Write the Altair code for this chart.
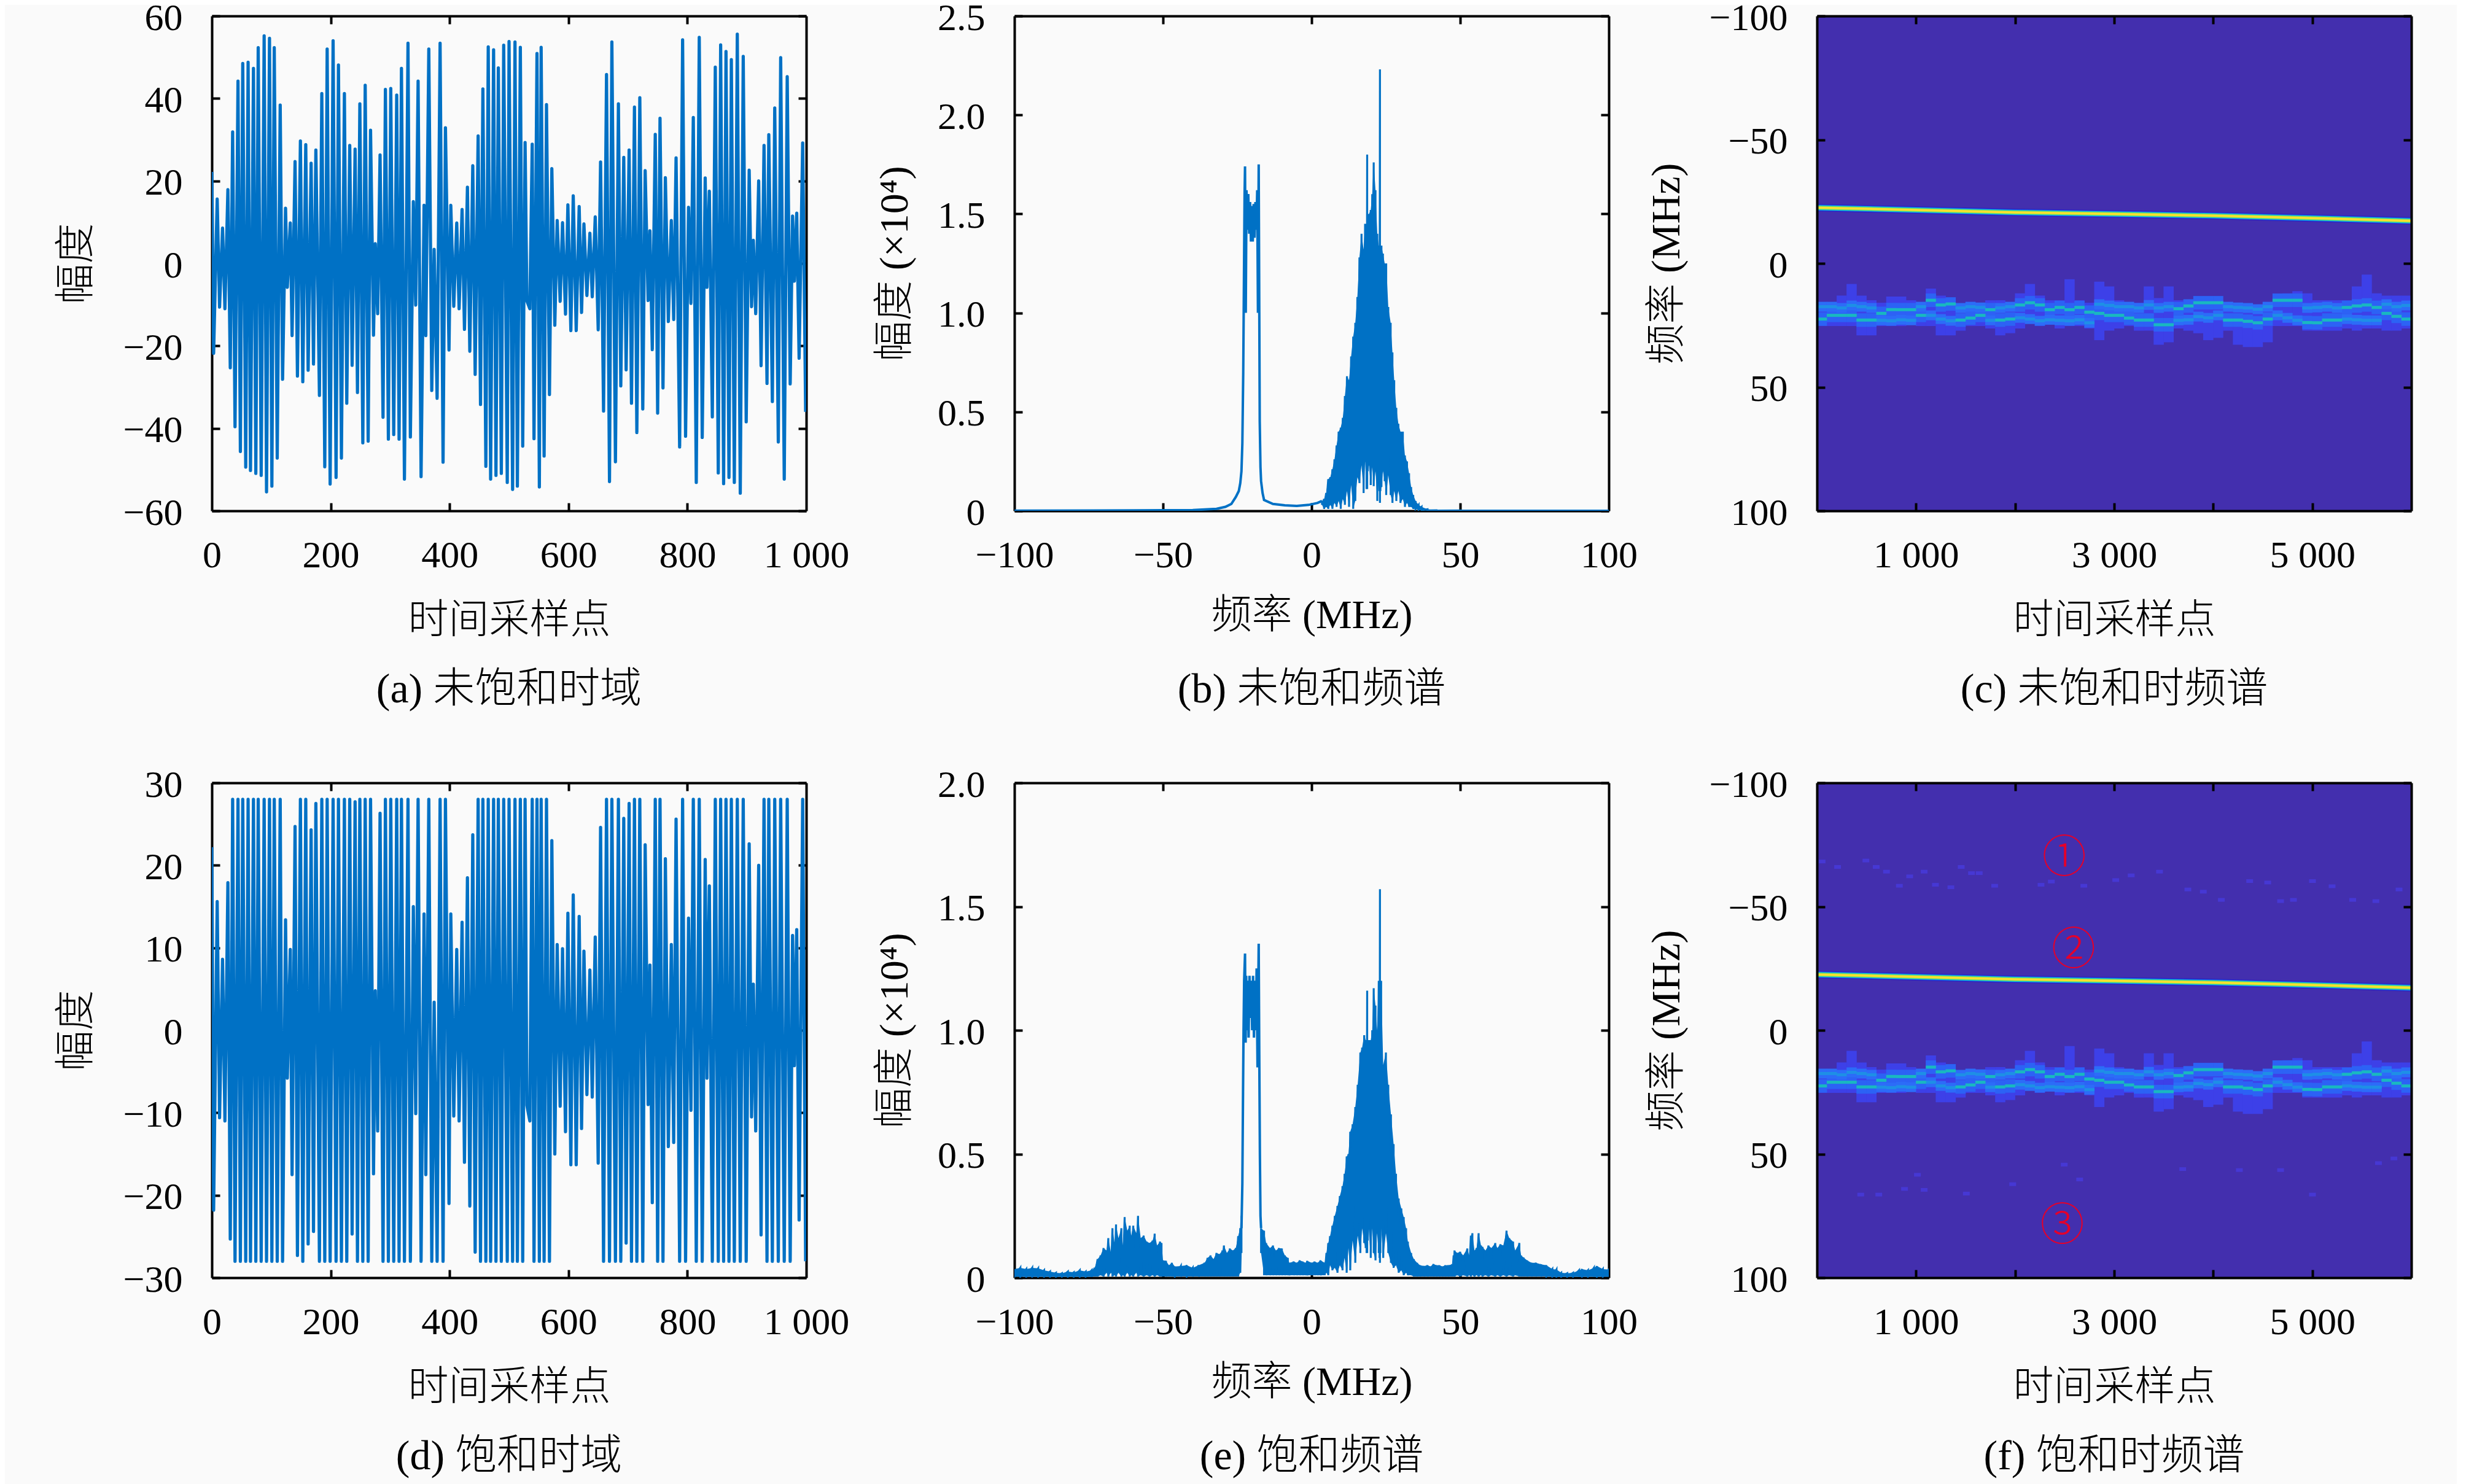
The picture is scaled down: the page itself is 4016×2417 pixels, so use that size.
import altair as alt
import pandas as pd

# ---------- time domain: extremes ----------
a_peak_x = [0,9,18,27,35,44,52,61,70,78,
 88,97,105,115,124,132,140,149,158,167,
 175,185,194,204,213,223,232,241,249,258,
 267,275,283,292,301,311,319,330,339,347,
 357,365,374,384,393,402,412,421,430,439,
 448,456,465,474,482,491,500,510,519,527,
 539,547,554,563,572,581,590,599,608,618,
 626,636,645,654,664,673,684,693,702,711,
 720,729,737,746,754,763,773,781,792,802,
 810,820,830,837,847,856,865,874,884,894,
 904,911,920,929,937,947,957,968,977,984,
 994]
a_peak_y = [22.2,15.6,8.6,17.9,31.9,44.2,48.5,48.8,47.3,52.3,
 55.2,54.6,52.3,38.4,13.4,9.8,24.7,29.7,28.8,24.3,
 27.5,41.2,52,54,48.1,41.2,28.6,27.7,38.7,43.2,
 32.3,4.8,26.3,42.2,42.4,40.8,47.3,53.4,15,44.2,
 14.1,52,3.4,53.4,32.9,14.1,9.8,13.1,18.5,23.7,
 30.9,42.3,52.5,51.8,47.4,52.9,53.8,53.7,52.4,29.3,
 28.9,50.9,52.4,38.5,23,10.4,9.9,14.2,16.4,13.8,
 9.6,7.3,11.3,24.6,45.8,53.7,38.7,25.7,27.5,37.9,
 40.2,22.5,7.9,31.3,35.2,20.8,10.4,25.6,54.2,13.6,
 35.4,54.8,20.7,17.5,47.6,53,51.4,49.4,55.6,50.2,
 22.6,5.6,20,28.6,31.2,37.7,49.9,45.3,11.5,12.2,
 29.2]
a_trough_x = [3,13,22,31,39,48,57,65,74,83,
 92,101,110,119,127,135,144,153,162,171,
 181,190,199,209,218,227,236,245,254,263,
 272,279,288,297,306,315,324,334,343,352,
 360,370,379,389,399,407,416,425,434,443,
 452,461,469,478,487,497,506,514,523,530,
 535,542,551,559,568,577,586,595,604,613,
 622,631,640,650,659,669,679,688,697,706,
 715,725,734,741,750,759,768,777,787,797,
 806,815,825,833,842,852,861,870,879,889,
 899,908,915,924,934,943,953,963,973,980,
 988,999]
a_trough_y = [-21.8,-10.6,-11,-25.3,-39.6,-45.6,-49.4,-50.2,-50.9,-51.4,
 -55.4,-54,-47.2,-28.1,-5.8,-17.5,-27.3,-28.7,-25.9,-24.4,
 -32,-49.3,-53.5,-51.9,-47.2,-33.9,-24.7,-31.3,-43.5,-43.1,
 -17.4,-12.2,-37.3,-42.6,-41.5,-42.6,-52.3,-42.1,-10.1,-51.7,
 -17.5,-30.8,-32.7,-48.2,-21,-10.4,-11,-16,-21.3,-26.9,
 -34.2,-49.2,-52.3,-51.4,-50.9,-53.1,-54.8,-54,-44.3,-9.1,
 -11,-42.5,-54.2,-46.7,-31.8,-15,-9.2,-12.3,-16.3,-16.3,
 -11.9,-7.8,-8.1,-16.1,-35.8,-52.9,-48.1,-29.7,-25.8,-33.9,
 -41,-35.3,-9,-20.9,-36.3,-30.2,-14.1,-13.6,-44.5,-41.9,
 -9.7,-53.1,-42.2,-5.8,-37.2,-50.8,-53.4,-51.9,-53.1,-55.7,
 -38.4,-10.5,-12.2,-24.8,-29.1,-33.5,-43.3,-52.3,-29.2,-4.3,
 -23,-36]
d_peak_y = [22.2,15.6,8.6,17.9,28,28,28,28,28,28,
 28,28,28,28,13.4,9.8,24.7,28,28,24.3,
 27.5,28,28,28,28,28,28,27.7,28,28,
 28,4.8,26.3,28,28,28,28,28,15,28,
 14.1,28,3.4,28,28,14.1,9.8,13.1,18.5,23.7,
 28,28,28,28,28,28,28,28,28,28,
 28,28,28,28,23,10.4,9.9,14.2,16.4,13.8,
 9.6,7.3,11.3,24.6,28,28,28,25.7,27.5,28,
 28,22.5,7.9,28,28,20.8,10.4,25.6,28,13.6,
 28,28,20.7,17.5,28,28,28,28,28,28,
 22.6,5.6,20,28,28,28,28,28,11.5,12.2,
 28]
d_trough_y = [-21.8,-10.6,-11,-25.3,-28,-28,-28,-28,-28,-28,
 -28,-28,-28,-28,-5.8,-17.5,-27.3,-28,-25.9,-24.4,
 -28,-28,-28,-28,-28,-28,-24.7,-28,-28,-28,
 -17.4,-12.2,-28,-28,-28,-28,-28,-28,-10.1,-28,
 -17.5,-28,-28,-28,-21,-10.4,-11,-16,-21.3,-26.9,
 -28,-28,-28,-28,-28,-28,-28,-28,-28,-9.1,
 -11,-28,-28,-28,-28,-15,-9.2,-12.3,-16.3,-16.3,
 -11.9,-7.8,-8.1,-16.1,-28,-28,-28,-28,-25.8,-28,
 -28,-28,-9,-20.9,-28,-28,-14.1,-13.6,-28,-28,
 -9.7,-28,-28,-5.8,-28,-28,-28,-28,-28,-28,
 -28,-10.5,-12.2,-24.8,-28,-28,-28,-28,-28,-4.3,
 -23,-28]

# ---------- spectrum (b), values in units of 10^4 ----------
b_left = [(-100,.001),(-60,.002),(-40,.004),(-32,.01),(-29,.02),(-27,.035),(-25.5,.07),(-24.5,.10),(-24,.14),
 (-23.6,.2),(-23.3,.34),(-23.0,.7),(-22.7,1.3),(-22.55,1.6),(-22.4,1.74),(-22.15,1.0),(-21.9,1.62),
 (-21.6,1.42),(-21.3,1.6),(-21.0,1.40),(-20.7,1.56),(-20.4,1.36),(-20.1,1.54),(-19.8,1.36),(-19.5,1.55),
 (-19.2,1.38),(-18.9,1.56),(-18.6,1.42),(-18.3,1.62),(-18.05,1.0),(-17.8,1.75),(-17.65,1.2),(-17.45,.45),
 (-17.2,.22),(-17,.15),(-16.5,.09),(-16,.055),(-13,.035),(-9,.028),(-5,.025),(-1,.03),(2,.04),(3.5,.05)]
b_band = [(3.5,.05,.03),(4.2,.06,.01),(4.9,.09,.02),(5.6,.16,.01),(6.3,.17,.03),(7.0,.21,.01),(7.7,.26,.04),
 (8.4,.33,.02),(9.1,.40,.05),(9.8,.42,.01),(10.5,.47,.06),(11.2,.58,.03),(11.9,.68,.10),(12.6,.66,.02),
 (13.3,.78,.13),(14.0,.88,.01),(14.7,.95,.05),(15.4,1.08,.17),(16.1,1.28,.14),(16.8,1.40,.23),(17.5,1.32,.09),
 (18.0,1.45,.25),(18.5,1.40,.11),(18.7,1.80,.11),(18.9,1.40,.2),(19.3,1.50,.23),(19.9,1.52,.13),(20.4,1.60,.22),
 (20.9,1.76,.125),(21.5,1.62,.2),(22.1,1.40,.05),(22.6,1.34,.15),(22.85,1.34,.1),(23.0,2.23,.04),(23.15,1.34,.1),
 (23.5,1.34,.12),(24.0,1.30,.2),(24.6,1.25,.15),(25.1,1.25,.08),(25.8,1.03,.18),(26.6,.95,.08),(27.2,.80,.04),
 (27.8,.66,.1),(28.5,.52,.05),(29.2,.44,.1),(29.9,.40,.04),(30.7,.40,.06),(31.4,.28,.02),(32.1,.25,.04),
 (32.8,.19,.02),(33.5,.12,.02),(34.2,.08,.01),(35,.05,.01),(36,.03,.005),(37,.02,.003),(39,.008,.002),
 (42,.003,.001),(50,.002,.001),(100,.001,.001)]

# ---------- spectrum (e) ----------
e_left = [(-100,.035,.004),(-98,.04,.004),(-96,.035,.004),(-94,.04,.004),(-92,.038,.004),(-90,.03,.004),(-88,.025,.004),
 (-86,.02,.004),(-84,.018,.004),(-82,.025,.004),(-80,.022,.004),(-78,.03,.004),(-76,.025,.004),(-74,.03,.004),
 (-73,.04,.005),(-72,.075,.005),(-71,.09,.01),(-70,.12,.005),(-69,.11,.02),(-68.4,.16,.005),(-67.5,.10,.02),(-67,.20,.005),
 (-66.3,.14,.01),(-65.8,.215,.005),(-65,.16,.02),(-64,.20,.005),(-63.5,.13,.01),(-62.9,.245,.005),(-62,.19,.02),(-61.2,.21,.005),
 (-60.7,.17,.01),(-60,.21,.005),(-59,.18,.02),(-58.4,.25,.005),(-57.5,.16,.01),(-56.5,.17,.005),(-55.5,.146,.01),(-54.5,.14,.005),
 (-53.5,.15,.01),(-52.8,.178,.005),(-52,.13,.01),(-51,.146,.005),(-50.5,.14,.005),(-50,.07,.005),(-49,.068,.005),(-48,.05,.005),
 (-47,.06,.005),(-46,.045,.005),(-44,.047,.005),(-42,.05,.005),(-40,.04,.005),(-38,.05,.005),(-36,.06,.005),(-35,.08,.005),
 (-34,.09,.005),(-33,.075,.005),(-32,.10,.005),(-31,.095,.005),(-30,.11,.005),(-29.5,.13,.005),(-28.5,.10,.005),(-27.5,.118,.005),
 (-26.5,.11,.005),(-25.5,.12,.005),(-24.7,.168,.005),(-24,.2,.02),(-23.6,.25,.1)]
e_mid = [(-23.6,.2),(-23.3,.38),(-23.1,.7),(-22.9,1.0),(-22.7,1.2),(-22.4,1.31),(-22.2,.95),(-22,1.22),(-21.8,1.0),(-21.5,1.2),
 (-21.2,.97),(-20.9,1.22),(-20.6,1.05),(-20.3,1.2),(-20,1.0),(-19.7,1.22),(-19.4,.97),(-19.1,1.2),(-18.8,1.0),(-18.5,1.25),
 (-18.2,.85),(-18,1.1),(-17.8,1.35),(-17.6,.9),(-17.4,.5),(-17.2,.25),(-17,.2)]
e_right = [(-17,.2,.1),(-16,.19,.01),(-15.3,.14,.01),(-14,.12,.01),(-13,.13,.01),(-12,.11,.01),(-11,.12,.01),(-10,.118,.01),(-9,.09,.01),
 (-8,.08,.01),(-7.5,.06,.01),(-6,.065,.01),(-5,.06,.01),(-4,.07,.01),(-3,.065,.01),(-2,.06,.01),(-1.5,.068,.01),(0,.06,.01),(1,.065,.01),
 (2,.06,.01),(3,.07,.01),(4.4,.06,.01),(5,.10,.02),(5.6,.14,.01),(6.2,.168,.05),(7,.21,.03),(7.8,.25,.04),(8.7,.29,.02),(9.5,.33,.05),
 (10.4,.37,.03),(11.1,.42,.08),(11.8,.49,.02),(12.4,.50,.12),(13,.59,.03),(13.8,.62,.15),(14.7,.69,.06),(15.5,.78,.17),(16.4,.91,.1),
 (17,.93,.2),(17.7,.98,.14),(18.2,.96,.12),(18.5,.96,.1),(18.7,1.16,.1),(18.9,.96,.15),(19.2,.96,.2),(19.9,.96,.08),(20.4,1.0,.2),(20.9,1.17,.1),
 (21.5,1.1,.07),(22,1.0,.18),(22.6,1.2,.1),(22.85,1.2,.08),(23,1.57,.06),(23.15,1.2,.1),(23.4,1.2,.2),(24.1,.86,.08),(25,.91,.18),(25.8,.78,.1),(26.7,.66,.06),
 (27.6,.54,.04),(28.4,.42,.05),(29.3,.32,.02),(30.2,.28,.03),(31,.245,.01),(31.8,.2,.02),(32.4,.146,.01),(33.5,.1,.01),(34.4,.075,.005),
 (35.5,.06,.005),(36.5,.05,.005),(37.8,.047,.005),(39,.05,.005),(40,.045,.005),(41,.055,.005),(42,.05,.005),(43,.05,.005),(44,.045,.005),
 (45,.05,.005),(46,.05,.005),(47.3,.054,.005),(47.8,.09,.005),(48.1,.11,.005),(49,.10,.01),(50,.105,.005),(51,.09,.01),(52.4,.118,.005),
 (53,.09,.01),(53.6,.17,.005),(54.1,.18,.01),(54.8,.11,.005),(55.5,.12,.01),(56.2,.18,.005),(57,.13,.01),(57.5,.125,.005),(58.5,.11,.01),
 (59.5,.13,.005),(60.5,.12,.01),(61.8,.14,.005),(62.5,.12,.01),(63.5,.135,.005),(64.5,.13,.01),(65.6,.19,.005),(66.5,.16,.01),(67.8,.146,.005),
 (68.5,.11,.01),(69.9,.14,.005),(70.5,.09,.005),(71.3,.082,.005),(72.5,.07,.005),(74,.06,.005),(75.5,.06,.005),(77.2,.054,.005),(79,.05,.005),
 (81,.035,.004),(82.4,.033,.004),(84,.02,.004),(86,.018,.004),(88,.02,.004),(90,.03,.004),(91,.035,.004),(93,.03,.004),(95,.04,.004),
 (96,.047,.004),(98,.035,.004),(100,.033,.004)]

# ---------- time-frequency panels ----------
col_t = [50+100*k for k in range(60)]
band_top = [16.8,16.8,13,8.3,13,14.9,15.9,13.4,13.4,14.9,
 15.9,10.2,13,14.9,16.8,16.8,15.9,14.9,14.9,16.8,
 12.1,8.3,13,14.9,14.9,6.4,14.9,15.9,7.4,9.3,
 14.9,15.9,15.9,9.3,14,9.3,14.9,15.9,14.9,15.9,
 14.9,18.7,18.7,18.7,19.7,18.7,13,12.1,11.2,12.1,
 14.9,14.9,14.9,14.9,9.3,4.5,12.1,13,13,13]
band_bot = [25.3,25.3,25.3,25.3,29.1,29.1,25.3,25.3,25.3,24.4,
 25.3,25.3,29.1,29.1,27.2,25.3,25.3,26.3,29.1,28.2,
 26.3,24.4,25.3,24.4,26.3,25.3,25.3,26.3,31,27.2,
 26.3,25.3,27.2,27.2,32.9,31.9,26.3,27.2,28.2,31,
 30.1,27.2,32.9,33.8,33.8,31.9,25.3,25.3,25.3,27.2,
 27.2,27.2,27.2,26.3,27.2,26.3,26.3,27.2,27.2,26.3]
band_ridge = [22.5,21,21,21,22.9,22.9,20.2,18.7,18.7,18.7,
 21,14.9,16.8,16.4,22.9,22.1,21,18.7,22.9,22.5,
 16.8,15.9,16.8,18.7,17.8,18.7,17.8,19.7,20.2,21,
 21,22.1,22.9,22.9,24.8,24.8,18.3,17.2,15.9,15.9,
 15.9,22.9,22.9,23.4,24,22.5,14.9,14.9,14.9,23.9,
 24,22.9,22.9,17.8,17.2,16.8,17.8,20.2,21.4,22.5]
band_ridge2 = [17.5,17.5,18,17,17.5,18,23,23.2,22.8,23,
 17.5,21,22.5,23.2,18,17.5,17.8,23,18,17.5,
 22,22.5,23.2,22.8,23,23.2,22.8,24,16.5,17,
 17.5,17.5,18,16.8,18,17.5,23,22.8,21.5,22,
 21,17.5,17.8,18,18.5,17.5,21,22,23,18,
 17.8,17.5,18,22.5,22.8,23,23,16.5,17.5,17]
chirp_t = [0,1000,2000,3000,4000,5000,6000]
chirp_f = [-22.5,-21.6,-20.6,-20,-19.3,-18.3,-17.2]
dots_t = [52,208,494,598,702,936,1082,832,1196,1352,1456,1638,1794,1560,2366,2262,2694,3016,3172,3458,3744,3900,4082,4368,4550,4680,4810,5002,5200,5408,5642,5876,
          442,624,884,1082,1014,1508,1976,2496,2652,3692,4264,4680,5002,5668,5824]
dots_f = [-68.2,-66,-68.6,-66,-64.1,-62.2,-64.1,-58.4,-58.8,-57.8,-66,-63.5,-58.4,-63.5,-60.1,-58.8,-58.4,-60.7,-62.6,-64.1,-56.9,-56,-52.7,-60.3,-59.7,-52.2,-52.7,-60.3,-58.2,-52.7,-52.2,-56.9,
          66.4,66.4,64.1,64.5,58.4,66,62.2,54.3,60.3,56.1,56.5,56.5,66.4,53.7,51.8]
mark_t = [2497,2591,2476]
mark_f = [-69.6,-32.3,79.2]
mark_s = ["①","②","③"]

# ---------- styling ----------
W, H = 968, 806
BLUE = "#0071C5"
FONT = "Liberation Serif, Noto Sans CJK SC"
NUM = 62
CJK = 66
CAP = 68
TICK = 13

def ax_common(z):
    return dict(grid=False, zindex=z, domainColor="black", domainWidth=4, tickColor="black", tickWidth=4,
                labelFont=FONT, labelFontSize=NUM, labelColor="black", labelOverlap=False, labelFlush=False, labelBound=False,
                titleFont=FONT, titleFontSize=CJK, titleFontWeight=300, titleColor="black")

def guides(xd, xt, xl, yd, yt, xexpr, yexpr, xtitle, ytitle, xty, ytx, z=0, rev=False):
    row = pd.DataFrame({"x": [xd[0]], "y": [yd[0]]})
    sx = alt.Scale(domain=xd, nice=False, zero=False)
    sy = alt.Scale(domain=yd, nice=False, zero=False, reverse=rev)
    c = ax_common(z)
    l1 = alt.Chart(row).mark_point(opacity=0).encode(
        x=alt.X("x:Q", scale=sx, axis=alt.Axis(orient="bottom", values=xl, labelExpr=xexpr, ticks=False, tickSize=0, labelPadding=42,
                                               title=xtitle, titleY=xty, titleBaseline="middle", **c)),
        y=alt.Y("y:Q", scale=sy, axis=alt.Axis(orient="left", values=yt, labelExpr=yexpr, ticks=False, tickSize=0, labelPadding=48,
                                               labelOffset=3, title=ytitle, titleX=ytx, titleBaseline="middle", **c)))
    l2 = alt.Chart(row).mark_point(opacity=0).encode(
        x=alt.X("x:Q", scale=sx, axis=alt.Axis(orient="top", offset=-H, values=xt, labels=False, domain=False, tickSize=TICK, title=None, **c)),
        y=alt.Y("y:Q", scale=sy, axis=alt.Axis(orient="right", offset=-W, values=yt, labels=False, domain=False, tickSize=TICK, title=None, **c)))
    l3 = alt.Chart(row).mark_point(opacity=0).encode(
        x=alt.X("x:Q", scale=sx, axis=alt.Axis(orient="bottom", offset=-H, values=xt, labels=False, tickSize=TICK, title=None, **c)),
        y=alt.Y("y:Q", scale=sy, axis=alt.Axis(orient="left", offset=-W, values=yt, labels=False, tickSize=TICK, title=None, **c)))
    return [l1, l2, l3], sx, sy

def finish(layers, caption, off=47):
    return alt.layer(*layers).resolve_axis(x="independent", y="independent").properties(
        width=W, height=H,
        title=alt.TitleParams(text=caption, orient="bottom", anchor="middle", font=FONT, fontSize=CAP, fontWeight=300,
                              color="black", offset=off))

X_1000 = "datum.value==1000?'1 000':format(datum.value,'d')"
SIGNED = "format(datum.value,'d')"
ONE = "datum.value==0?'0':format(datum.value,'.1f')"

def time_panel(ptsx, pty, trx, try_, yd, yt, caption):
    g, sx, sy = guides([0, 1000], [200,400,600,800], [0,200,400,600,800,1000], yd, yt, X_1000, SIGNED,
                       "时间采样点", "幅度", 178, -221)
    pts = sorted(list(zip(ptsx, pty)) + list(zip(trx, try_)))
    df = pd.DataFrame(pts, columns=["x", "y"])
    line = alt.Chart(df).mark_line(color=BLUE, strokeWidth=5.2, clip=True, strokeJoin="round").encode(
        x=alt.X("x:Q", scale=sx, axis=None), y=alt.Y("y:Q", scale=sy, axis=None))
    return finish(g + [line], caption)

def spec_panel(yd, yt, caption, pieces):
    g, sx, sy = guides([-100, 100], [-50,0,50], [-100,-50,0,50,100], yd, yt, SIGNED, ONE,
                       "频率 (MHz)", "幅度 (×10⁴)", 170, -195)
    marks = []
    for kind, rows in pieces:
        if kind == "line":
            df = pd.DataFrame(rows, columns=["x", "y"]).reset_index()
            marks.append(alt.Chart(df).mark_line(color=BLUE, strokeWidth=4, clip=True).encode(
                x=alt.X("x:Q", scale=sx, axis=None), y=alt.Y("y:Q", scale=sy, axis=None), order="index:Q"))
        else:
            df = pd.DataFrame(rows, columns=["x", "hi", "lo"])
            marks.append(alt.Chart(df).mark_area(color=BLUE, opacity=1, clip=True).encode(
                x=alt.X("x:Q", scale=sx, axis=None), y=alt.Y("hi:Q", scale=sy, axis=None), y2="lo:Q"))
            zig = []
            for x, hi, lo in rows:
                zig += [(x, hi), (x, lo)]
            dz = pd.DataFrame(zig, columns=["x", "y"]).reset_index()
            marks.append(alt.Chart(dz).mark_line(color=BLUE, strokeWidth=3.2, clip=True).encode(
                x=alt.X("x:Q", scale=sx, axis=None), y=alt.Y("y:Q", scale=sy, axis=None), order="index:Q"))
    return finish(g + marks, caption, off=55)

def tf_panel(caption, extras=False):
    g, sx, sy = guides([0, 6000], [1000,2000,3000,4000,5000], [1000,3000,5000], [-100, 100], [-100,-50,0,50,100],
                       "replace(format(datum.value,'d'),'000',' 000')",
                       SIGNED, "时间采样点", "频率 (MHz)", 178, -245, z=1, rev=True)
    X = lambda f="t:Q": alt.X(f, scale=sx, axis=None)
    Y = lambda f="f:Q": alt.Y(f, scale=sy, axis=None)
    bg = alt.Chart(pd.DataFrame({"t": [0], "t2": [6000], "f": [-100], "f2": [100]})).mark_rect(color="#432FAE").encode(
        x=X(), x2="t2:Q", y=Y(), y2="f2:Q")
    band = pd.DataFrame({"t": col_t, "top": band_top, "bot": band_bot, "f": band_ridge, "g": band_ridge2})
    cw = 16.6
    outer = alt.Chart(band).mark_rect(color="#3D40E8", width=cw).encode(x=X(), y=Y("top:Q"), y2="bot:Q")
    mid = alt.Chart(band).mark_rect(color="#2C62F5", width=cw, height=22).encode(x=X(), y=Y())
    mid2 = alt.Chart(band).mark_rect(color="#2C6CF8", width=cw, height=16).encode(x=X(), y=Y("g:Q"))
    rid2 = alt.Chart(band).mark_rect(color="#1E8FE6", width=cw, height=5).encode(x=X(), y=Y("g:Q"))
    rid = alt.Chart(band).mark_rect(color="#19B8C0", width=cw, height=5).encode(x=X(), y=Y())
    chirp = pd.DataFrame({"t": chirp_t, "f": chirp_f})
    ch = [alt.Chart(chirp).mark_line(color=c, strokeWidth=w, clip=True).encode(x=X(), y=Y())
          for c, w in [("#2A1FC0", 12), ("#1E56E8", 10), ("#14C8C8", 8), ("#8CE050", 5.5), ("#F8E030", 3.5)]]
    layers = g + [bg, outer, mid, mid2, rid2, rid] + ch
    if extras:
        dots = pd.DataFrame({"t": dots_t, "f": dots_f})
        layers.append(alt.Chart(dots).mark_rect(color="#4638D4", width=11, height=6).encode(x=X(), y=Y()))
        txt = pd.DataFrame({"t": mark_t, "f": mark_f, "s": mark_s})
        layers.append(alt.Chart(txt).mark_text(color="#E4002B", font="Noto Sans CJK SC", fontSize=72, fontWeight=300,
                                               baseline="middle", align="center").encode(x=X(), y=Y(), text="s:N"))
    return finish(layers, caption)

pa = time_panel(a_peak_x, a_peak_y, a_trough_x, a_trough_y, [-60, 60], [-60,-40,-20,0,20,40,60], "(a) 未饱和时域")
pb = spec_panel([0, 2.5], [0,.5,1,1.5,2,2.5], "(b) 未饱和频谱", [("line", b_left), ("band", b_band)])
pc = tf_panel("(c) 未饱和时频谱")
pd_ = time_panel(a_peak_x, d_peak_y, a_trough_x, d_trough_y, [-30, 30], [-30,-20,-10,0,10,20,30], "(d) 饱和时域")
pe = spec_panel([0, 2], [0,.5,1,1.5,2], "(e) 饱和频谱", [("band", e_left), ("line", e_mid), ("band", e_right)])
pf = tf_panel("(f) 饱和时频谱", extras=True)

chart = alt.concat(pa, pb, pc, pd_, pe, pf, columns=3, spacing={"row": 443, "column": 339}, bounds="flush").properties(
    padding={"left": 83, "top": -10, "right": 72, "bottom": 18}, background="#FAFAFA"
).configure_view(stroke=None)

chart.save("out.html", embed_options={"renderer": "svg", "actions": False})
